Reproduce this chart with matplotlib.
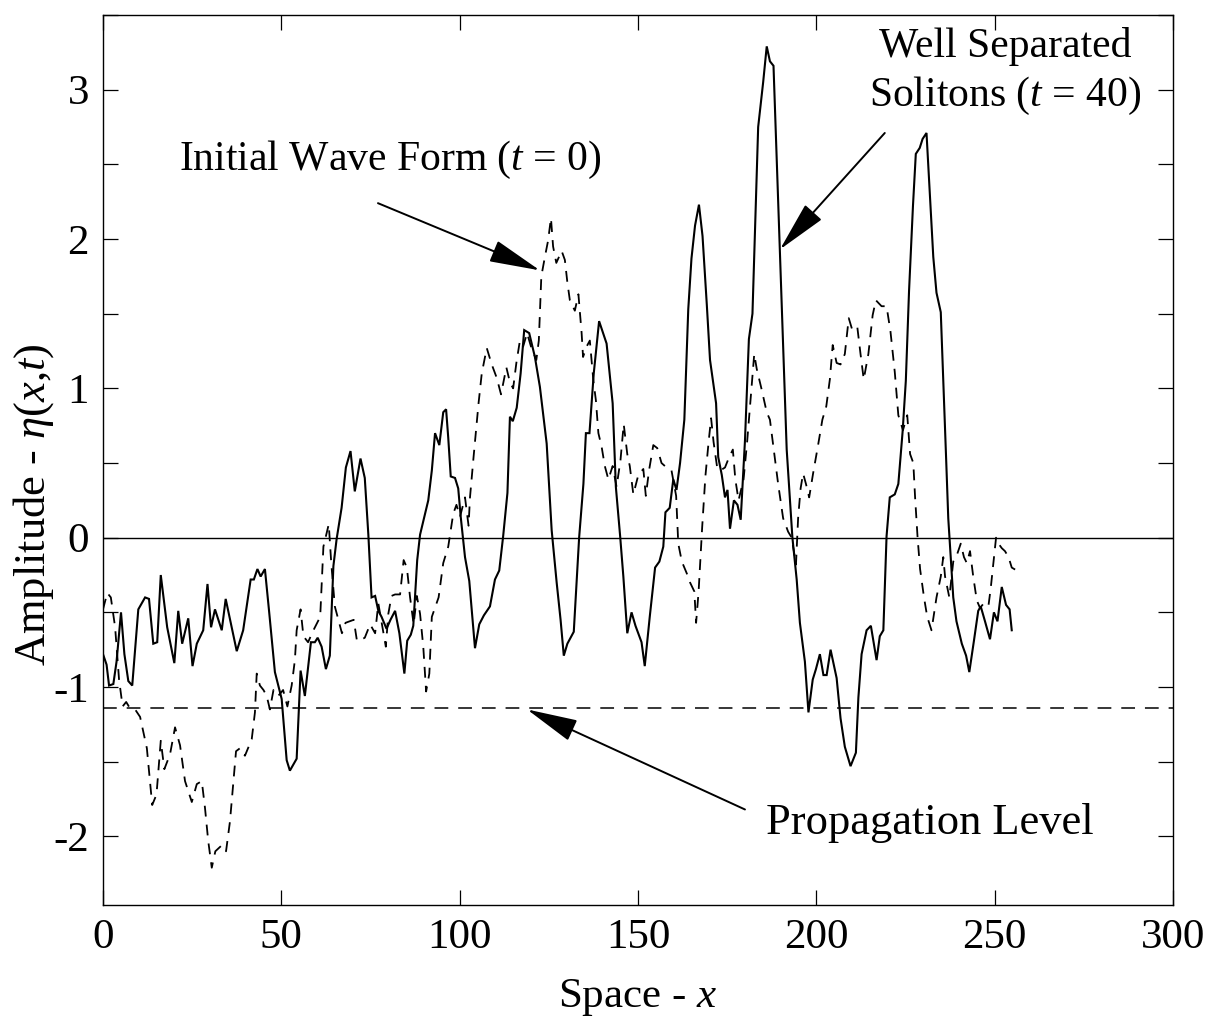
import matplotlib
matplotlib.use("Agg")
import matplotlib.pyplot as plt
from matplotlib.ticker import MultipleLocator, FixedLocator

# ---------------- data ----------------
x_t0 = [0.0, 1.2, 2.2, 3.4, 4.5, 5.5, 6.5, 7.5, 9.0, 10.4, 12.3, 13.8, 15.0, 16.2, 17.2,
        18.8, 20.2, 21.6, 23.0, 24.9, 26.3, 27.7, 28.6, 29.5, 30.5, 31.5, 33.3, 34.5, 35.6,
        36.5, 37.3, 38.4, 39.8, 41.7, 42.6, 43.1, 44.0, 45.0, 45.9, 46.8, 47.8, 49.1, 50.5,
        51.7, 52.9, 53.8, 54.3, 55.4, 56.2, 57.5, 59.0, 60.9, 61.8, 63.3, 64.0, 65.0, 66.0,
        67.0, 68.0, 70.3, 71.2, 72.6, 73.4, 74.9, 76.3, 77.2, 79.3, 80.0, 80.9, 81.9, 83.3,
        84.3, 85.2, 86.1, 87.1, 88.0, 88.9, 89.8, 90.6, 91.5, 92.2, 94.1, 95.4, 96.8, 98.2,
        99.1, 100.1, 101.5, 102.5, 102.9, 103.9, 105.3, 106.2, 107.6, 109.0, 110.4, 111.6,
        113.1, 114.1, 115.0, 115.9, 116.9, 117.8, 118.9, 120.0, 121.5, 122.2, 122.9, 123.9,
        124.8, 125.6, 126.2, 127.1, 128.6, 129.5, 130.2, 130.9, 132.3, 133.3, 134.2, 134.6,
        135.6, 136.5, 137.5, 138.2, 138.9, 139.8, 140.7, 141.7, 142.9, 144.0, 145.1, 146.0,
        147.0, 147.7, 148.7, 150.1, 151.5, 152.2, 153.1, 154.3, 155.4, 156.6, 158.0, 159.4,
        160.7, 161.3, 162.3, 163.7, 164.6, 165.8, 166.3, 167.0, 168.0, 168.9, 169.8, 170.5,
        171.2, 172.2, 173.1, 174.4, 175.4, 176.6, 177.3, 178.2, 179.6, 180.6, 181.7, 182.6,
        183.3, 184.7, 186.1, 187.0, 187.9, 189.3, 190.7, 192.1, 193.1, 194.3, 194.9, 195.6,
        196.3, 197.1, 198.0, 199.1, 200.5, 201.7, 202.8, 203.8, 204.6, 205.7, 206.8, 208.0,
        209.1, 210.1, 211.5, 212.4, 213.3, 214.6, 215.8, 216.7, 218.3, 219.7, 220.8, 222.0,
        223.0, 224.3, 225.5, 226.3, 227.2, 227.7, 228.4, 229.1, 230.2, 231.1, 232.3, 233.7,
        234.9, 235.6, 236.1, 237.3, 238.4, 239.5, 240.5, 241.4, 242.2, 243.1, 244.0, 245.0,
        245.9, 247.3, 248.3, 248.9, 249.7, 250.4, 251.1, 252.0, 252.9, 253.9, 254.8, 256.2]
eta_t0 = [-0.48, -0.37, -0.40, -0.60, -0.95, -1.13, -1.10, -1.14, -1.15, -1.20, -1.41, -1.79,
          -1.72, -1.36, -1.55, -1.45, -1.27, -1.39, -1.63, -1.77, -1.65, -1.63, -1.81, -2.03,
          -2.21, -2.10, -2.06, -2.10, -1.90, -1.65, -1.43, -1.41, -1.46, -1.35, -1.17, -0.91,
          -0.99, -1.02, -1.06, -1.15, -1.02, -1.06, -1.02, -1.13, -0.99, -0.82, -0.62, -0.48,
          -0.66, -0.70, -0.62, -0.53, -0.06, 0.09, -0.17, -0.46, -0.55, -0.64, -0.57, -0.55,
          -0.69, -0.68, -0.67, -0.58, -0.64, -0.44, -0.73, -0.51, -0.39, -0.38, -0.38, -0.15,
          -0.20, -0.40, -0.58, -0.39, -0.51, -0.73, -1.03, -0.91, -0.53, -0.40, -0.17, -0.06,
          0.16, 0.22, 0.14, 0.27, 0.08, 0.27, 0.54, 0.90, 1.10, 1.27, 1.16, 1.07, 0.96, 1.14,
          1.04, 1.00, 1.17, 1.32, 1.28, 1.37, 1.28, 1.19, 1.32, 1.75, 1.88, 1.99, 2.14, 1.95,
          1.84, 1.92, 1.86, 1.71, 1.59, 1.52, 1.63, 1.37, 1.21, 1.28, 1.32, 1.05, 0.92, 0.70,
          0.61, 0.48, 0.39, 0.48, 0.34, 0.52, 0.76, 0.56, 0.48, 0.29, 0.42, 0.46, 0.28, 0.45,
          0.62, 0.60, 0.50, 0.47, 0.45, 0.28, -0.04, -0.16, -0.24, -0.30, -0.36, -0.57, -0.36,
          0.07, 0.41, 0.64, 0.80, 0.64, 0.47, 0.45, 0.47, 0.53, 0.59, 0.39, 0.25, 0.39, 0.64,
          0.96, 1.23, 1.13, 0.99, 0.84, 0.79, 0.62, 0.36, 0.13, 0.04, 0.00, -0.18, 0.13, 0.33,
          0.43, 0.36, 0.27, 0.43, 0.62, 0.79, 0.88, 1.06, 1.29, 1.17, 1.16, 1.23, 1.47, 1.39,
          1.41, 1.23, 1.06, 1.23, 1.49, 1.59, 1.55, 1.55, 1.38, 1.11, 0.82, 0.72, 0.82, 0.56,
          0.50, 0.27, 0.00, -0.21, -0.40, -0.53, -0.62, -0.40, -0.26, -0.13, -0.26, -0.40,
          -0.16, -0.11, -0.04, -0.13, -0.17, -0.09, -0.26, -0.42, -0.47, -0.43, -0.45, -0.34,
          -0.16, 0.00, -0.04, -0.07, -0.09, -0.13, -0.20, -0.22]

x_t40 = [0.0, 1.0, 1.7, 2.9, 3.8, 5.05, 6.0, 7.1, 8.2, 9.9, 11.8, 12.9, 14.1, 15.2, 16.2,
         18.0, 20.0, 21.1, 22.2, 23.9, 25.1, 26.3, 28.1, 29.3, 30.3, 31.4, 33.3, 34.4, 35.9,
         37.5, 39.3, 41.4, 42.3, 43.3, 44.2, 45.4, 46.6, 48.2, 50.1, 51.5, 52.4, 54.3, 55.4,
         56.6, 58.3, 59.4, 60.2, 61.3, 62.5, 63.6, 64.6, 65.5, 66.9, 68.1, 69.4, 70.6, 72.2,
         73.4, 74.4, 75.3, 76.3, 77.2, 78.1, 79.5, 80.6, 81.9, 83.1, 84.5, 85.3, 86.3, 87.0,
         88.1, 88.9, 89.8, 91.2, 92.2, 93.1, 94.3, 95.4, 96.2, 96.8, 97.5, 98.7, 99.6, 100.3,
         101.5, 102.7, 104.3, 105.5, 106.8, 108.5, 109.9, 111.1, 112.2, 113.4, 114.1, 114.9,
         116.0, 117.1, 118.1, 119.5, 121.1, 122.5, 124.4, 125.8, 127.2, 128.3, 129.2, 130.2,
         132.0, 133.5, 134.7, 135.4, 136.4, 137.6, 139.1, 141.2, 142.9, 143.8, 145.0, 145.9,
         147.0, 148.2, 149.3, 151.0, 151.9, 153.3, 154.8, 156.0, 157.1, 157.7, 158.9, 159.9,
         160.8, 161.8, 163.0, 164.1, 165.0, 166.0, 167.1, 168.1, 169.3, 170.2, 171.9, 172.5,
         173.5, 174.4, 175.1, 175.8, 176.9, 177.9, 178.8, 180.0, 181.1, 182.1, 183.7, 185.1,
         186.1, 187.0, 188.0, 189.8, 191.7, 193.3, 194.5, 195.4, 196.8, 197.8, 199.0, 199.9,
         201.0, 202.0, 202.9, 204.0, 205.7, 206.8, 208.0, 209.6, 211.1, 211.8, 212.7, 214.1,
         215.3, 216.9, 217.8, 218.8, 219.7, 220.6, 222.0, 223.0, 224.2, 225.1, 226.0, 227.1,
         227.9, 229.0, 229.8, 230.9, 231.9, 232.8, 233.7, 234.9, 235.6, 236.4, 237.0, 237.7,
         238.4, 239.3, 240.8, 242.0, 242.9, 244.2, 245.4, 246.1, 247.3, 248.7, 249.8, 250.8,
         252.0, 253.2, 254.2, 254.8]
eta_t40 = [-0.78, -0.85, -0.99, -0.98, -0.83, -0.50, -0.78, -0.96, -0.99, -0.48, -0.40, -0.41,
           -0.71, -0.70, -0.25, -0.60, -0.84, -0.49, -0.71, -0.54, -0.86, -0.71, -0.62, -0.31,
           -0.60, -0.48, -0.62, -0.41, -0.58, -0.76, -0.62, -0.28, -0.28, -0.21, -0.26, -0.21,
           -0.50, -0.90, -1.08, -1.49, -1.56, -1.48, -0.89, -1.06, -0.70, -0.70, -0.67, -0.73,
           -0.88, -0.79, -0.19, -0.01, 0.20, 0.47, 0.58, 0.31, 0.53, 0.40, 0.02, -0.40, -0.39,
           -0.49, -0.53, -0.61, -0.55, -0.49, -0.64, -0.91, -0.69, -0.65, -0.59, -0.15, 0.02,
           0.11, 0.25, 0.45, 0.70, 0.62, 0.84, 0.86, 0.67, 0.41, 0.40, 0.33, 0.14, -0.13, -0.29,
           -0.74, -0.58, -0.52, -0.46, -0.28, -0.22, 0.01, 0.30, 0.81, 0.78, 0.87, 1.10, 1.39,
           1.37, 1.21, 1.01, 0.63, 0.05, -0.30, -0.55, -0.79, -0.71, -0.63, 0.00, 0.36, 0.70,
           0.70, 1.10, 1.45, 1.30, 0.90, 0.34, 0.01, -0.26, -0.64, -0.50, -0.59, -0.70, -0.86,
           -0.53, -0.20, -0.16, -0.06, 0.17, 0.20, 0.39, 0.32, 0.50, 0.79, 1.53, 1.87, 2.09,
           2.23, 2.02, 1.56, 1.19, 0.90, 0.54, 0.42, 0.27, 0.32, 0.06, 0.25, 0.22, 0.12, 0.65,
           1.33, 1.50, 2.75, 3.05, 3.29, 3.19, 3.16, 1.90, 0.59, 0.00, -0.28, -0.57, -0.83,
           -1.17, -0.95, -0.88, -0.78, -0.92, -0.92, -0.75, -0.94, -1.21, -1.40, -1.53, -1.44,
           -1.07, -0.78, -0.62, -0.59, -0.82, -0.66, -0.62, 0.01, 0.27, 0.29, 0.36, 0.71, 1.05,
           1.65, 2.22, 2.57, 2.61, 2.67, 2.71, 2.28, 1.88, 1.64, 1.51, 1.06, 0.53, 0.13, -0.13,
           -0.40, -0.56, -0.71, -0.79, -0.90, -0.69, -0.49, -0.46, -0.56, -0.68, -0.50, -0.56,
           -0.33, -0.45, -0.48, -0.62]

propagation_level = -1.14
x_ticks = [0, 50, 100, 150, 200, 250, 300]
y_ticks = [-2, -1, 0, 1, 2, 3]

# ---------------- style ----------------
plt.rcParams['font.family'] = ['Liberation Serif', 'DejaVu Serif']
plt.rcParams['mathtext.fontset'] = 'custom'
plt.rcParams['mathtext.rm'] = 'Liberation Serif'
plt.rcParams['mathtext.it'] = 'Liberation Serif:italic'
plt.rcParams['axes.unicode_minus'] = False

fig = plt.figure(figsize=(12.16, 10.28), dpi=100)
ax = fig.add_axes([0.0847, 0.1196, 0.8799, 0.8658])

ax.plot(x_t40, eta_t40, color='black', lw=1.5, solid_joinstyle='miter')
ax.plot(x_t0, eta_t0, color='black', lw=1.3, dashes=(6, 4.5))
ax.axhline(0, color='black', lw=1.0)
ax.axhline(propagation_level, color='black', lw=1.1, dashes=(9, 6.5))

ax.set_xlim(0, 300)
ax.set_ylim(-2.46, 3.5)
ax.xaxis.set_major_locator(FixedLocator(x_ticks))
ax.yaxis.set_major_locator(FixedLocator(y_ticks))
ax.yaxis.set_minor_locator(MultipleLocator(0.5))
ax.tick_params(which='both', direction='in', top=True, right=True,
               length=11, width=0.9, labelsize=31, pad=10)
for s in ax.spines.values():
    s.set_linewidth(1.0)

ax.set_xlabel(r"Space - $x$", fontsize=31, labelpad=14)
ax.set_ylabel(r"Amplitude - $\eta$($x$,$t$)", fontsize=32)
ax.yaxis.set_label_coords(-0.044, 0.45)

arrow = dict(arrowstyle='-|>,head_length=1.6,head_width=0.35', color='black',
             lw=1.4, shrinkA=0, shrinkB=0, mutation_scale=20)
ax.annotate('', xy=(122.5, 1.79), xytext=(77.1, 2.24), arrowprops=arrow)
ax.text(80.5, 2.53, r"Initial Wave Form ($t$ = 0)", fontsize=30, ha='center', va='center')

ax.annotate('', xy=(189.8, 1.93), xytext=(219.2, 2.71), arrowprops=arrow)
ax.text(253.0, 3.12, "Well Separated\nSolitons ($t$ = 40)", fontsize=30, ha='center',
        va='center', multialignment='center', linespacing=1.3)

ax.annotate('', xy=(118.9, -1.15), xytext=(180.0, -1.82), arrowprops=arrow)
ax.text(231.8, -1.91, "Propagation Level", fontsize=32, ha='center', va='center')

fig.savefig('out.png', dpi=100, facecolor='white')
